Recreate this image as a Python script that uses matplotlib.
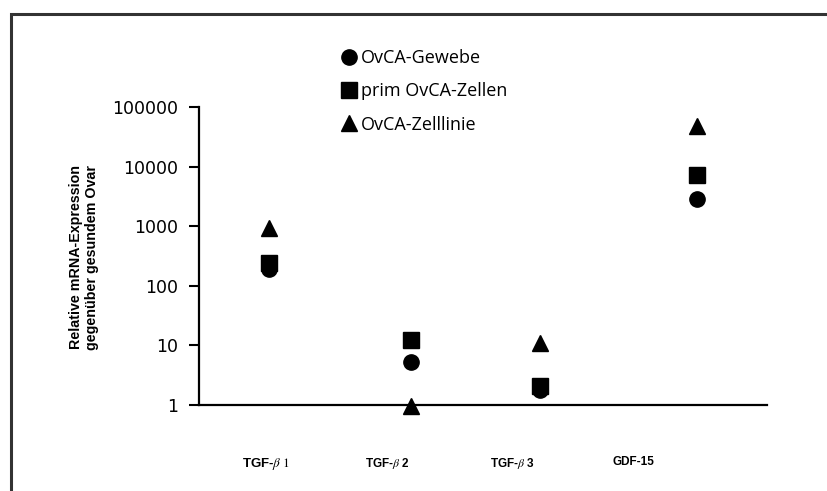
import numpy as np
import matplotlib.pyplot as plt
from matplotlib.patches import Rectangle

plt.rcParams['mathtext.fontset'] = 'stix'

# x positions of the four marker groups and of the label slots
genes = ['TGF-$\\beta\\ \\mathrm{1}$', 'TGF-$\\beta\\ $2', 'TGF-$\\beta\\ $3', 'GDF-15']
x_marks = [0.62, 1.87, 3.0, 4.38]
x_labels = [0.59, 1.66, 2.76, 3.82]

gewebe = [190, 5.3, 1.8, 2900]        # OvCA-Gewebe
prim_zellen = [240, 12.3, 2.1, 7200]  # prim OvCA-Zellen
zelllinie = [950, 0.95, 11, 48000]    # OvCA-Zelllinie

fig = plt.figure(figsize=(8.27, 4.91), dpi=100)
ax = fig.add_axes([199/827, 1 - 405/491, (767 - 199)/827, (405 - 107)/491])

ax.plot(x_marks, gewebe, 'o', color='black', ms=11, clip_on=False, zorder=3,
        label='OvCA-Gewebe')
ax.plot(x_marks, prim_zellen, 's', color='black', ms=11, clip_on=False, zorder=3,
        label='prim OvCA-Zellen')
ax.plot(x_marks, zelllinie, '^', color='black', ms=12, clip_on=False, zorder=3,
        label='OvCA-Zelllinie')

ax.set_yscale('log')
ax.set_ylim(1, 100000)
ax.set_xlim(0, 5)
ticks = [1, 10, 100, 1000, 10000, 100000]
ax.set_yticks(ticks, [str(t) for t in ticks], fontsize=12.5, family='DejaVu Sans')
ax.minorticks_off()
ax.tick_params(axis='y', length=7, width=1.5, pad=8)
ax.set_xticks(x_labels, genes, fontsize=8.5, fontweight='bold', family='Liberation Sans')
ax.tick_params(axis='x', length=0, pad=37)
ax.get_xticklabels()[0].set_fontsize(9.5)

for s in ['top', 'right']:
    ax.spines[s].set_visible(False)
for s in ['left', 'bottom']:
    ax.spines[s].set_linewidth(1.6)

fig.text(84/827, 1 - 257/491, 'Relative mRNA-Expression\ngegenüber gesundem Ovar',
         rotation=90, ha='center', va='center', fontsize=10.3, fontweight='bold',
         family='Liberation Sans', linespacing=1.1)

ax.legend(loc='upper left', bbox_to_anchor=(344/827, 1 - 49/491),
          bbox_transform=fig.transFigure, frameon=False, handlelength=0.6,
          handletextpad=0.35, labelspacing=0.85, borderaxespad=0, borderpad=0,
          prop={'family': 'Open Sans', 'size': 13})

# outer frame around the figure
fig.patches.append(Rectangle((11/827, -0.05), 1.1, 1 - 14/491 + 0.05,
                             transform=fig.transFigure, fill=False,
                             edgecolor='#333333', lw=2.2))

fig.savefig('out.png', dpi=100)
